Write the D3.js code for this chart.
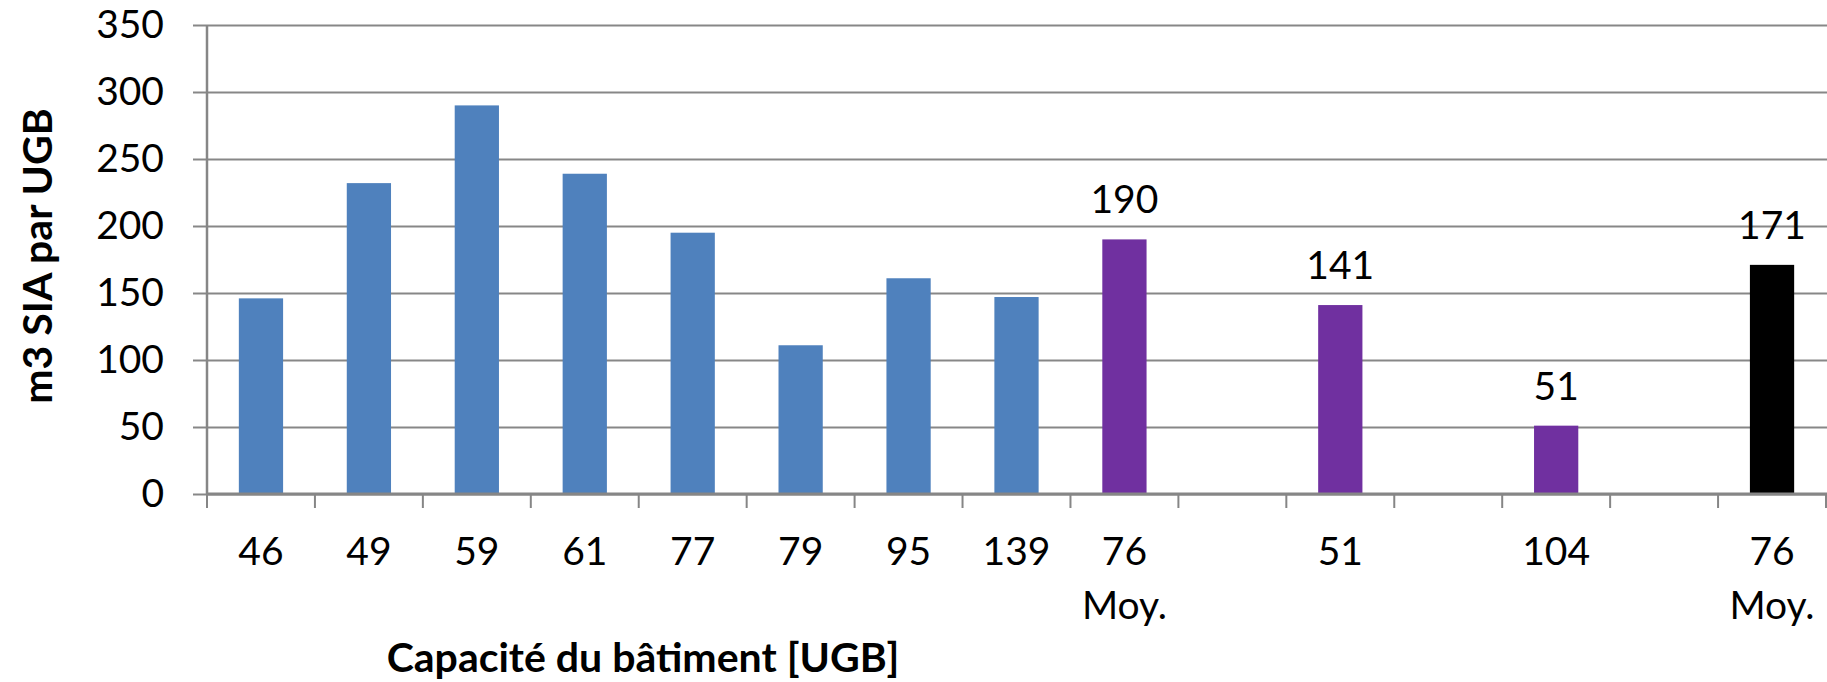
<!DOCTYPE html>
<html>
<head>
<meta charset="utf-8">
<script src="https://cdn.jsdelivr.net/npm/d3@7"></script>
<style>
  body { margin: 0; background: #fff; }
  svg { display: block; }
  text { font-family: Lato, "Open Sans", sans-serif; fill: #000; }
</style>
</head>
<body>
<svg id="chart" width="1827" height="682"></svg>
<script>
// categories (second line after "|"), empty slots are spacers between groups
var categories = ["46", "49", "59", "61", "77", "79", "95", "139", "76|Moy.", "", "51", "", "104", "", "76|Moy."];
var values = [146, 232, 290, 239, 195, 111, 161, 147, 190, null, 141, null, 51, null, 171];
var series = ["site", "site", "site", "site", "site", "site", "site", "site", "moyA", null, "siteB", null, "siteB", null, "moyB"];
var yTicks = [0, 50, 100, 150, 200, 250, 300, 350];

var colors = { site: "#4F81BD", moyA: "#7030A0", siteB: "#7030A0", moyB: "#000000" };
var labelled = { moyA: true, siteB: true, moyB: true };

var svg = d3.select("#chart");
var W = 1827, H = 682;
var plot = { left: 207, right: 1826, top: 25, bottom: 494 };
var fs = "39px";

var x = d3.scaleBand()
    .domain(d3.range(categories.length))
    .range([plot.left, plot.right])
    .padding(0);

var y = d3.scaleLinear()
    .domain([0, 350])
    .range([plot.bottom, plot.top]);

// gridlines + y labels
var yAxis = svg.append("g")
    .attr("transform", "translate(" + plot.left + ",0)")
    .call(d3.axisLeft(y).tickValues(yTicks).tickSize(14).tickPadding(29));
yAxis.select(".domain").remove();
yAxis.selectAll(".tick line")
    .attr("x1", -14)
    .attr("x2", W - plot.left)
    .attr("stroke", "#878787")
    .attr("stroke-width", 2);
yAxis.selectAll(".tick text")
    .style("font-size", fs)
    .style("font-family", "Lato, sans-serif")
    .attr("fill", "#000");

// bars
var barW = x.bandwidth() * 0.41;
var data = values.map(function(v, i) { return { i: i, v: v, s: series[i] }; })
    .filter(function(d) { return d.v != null; });

svg.append("g").selectAll("rect")
    .data(data)
    .enter()
    .append("rect")
    .attr("x", function(d) { return x(d.i) + x.bandwidth() / 2 - barW / 2; })
    .attr("width", barW)
    .attr("y", function(d) { return y(d.v); })
    .attr("height", function(d) { return y(0) - y(d.v); })
    .attr("fill", function(d) { return colors[d.s]; });

// value labels
svg.append("g").selectAll("text")
    .data(data.filter(function(d) { return labelled[d.s]; }))
    .enter()
    .append("text")
    .attr("x", function(d) { return x(d.i) + x.bandwidth() / 2; })
    .attr("y", function(d) { return y(d.v) - 26; })
    .attr("text-anchor", "middle")
    .style("font-size", fs)
    .text(function(d) { return d.v; });

// y axis line
svg.append("line")
    .attr("x1", plot.left).attr("x2", plot.left)
    .attr("y1", plot.top).attr("y2", plot.bottom)
    .attr("stroke", "#868686")
    .attr("stroke-width", 2.5);

// x axis: line, ticks at band edges, labels at centres
var xAxis = svg.append("g")
    .attr("transform", "translate(0," + plot.bottom + ")")
    .call(d3.axisBottom(x).tickSize(0).tickFormat(""));
xAxis.select(".domain")
    .attr("stroke", "#868686")
    .attr("stroke-width", 3)
    .attr("d", "M" + plot.left + ",0H" + W);

xAxis.selectAll(".edge")
    .data(d3.range(categories.length + 1))
    .enter()
    .append("line")
    .attr("class", "edge")
    .attr("x1", function(i) { return i < categories.length ? x(i) : plot.right; })
    .attr("x2", function(i) { return i < categories.length ? x(i) : plot.right; })
    .attr("y1", 0)
    .attr("y2", 14)
    .attr("stroke", "#868686")
    .attr("stroke-width", 2);

var lbl = xAxis.selectAll(".tick text").text(null)
    .attr("y", 0)
    .attr("dy", null)
    .style("font-size", fs)
    .style("font-family", "Lato, sans-serif")
    .attr("fill", "#000");
lbl.each(function(i) {
  var parts = categories[i].split("|");
  var t = d3.select(this);
  parts.forEach(function(p, k) {
    if (p === "") return;
    t.append("tspan")
      .attr("x", 0)
      .attr("y", 71 + k * 54)
      .text(p);
  });
});

// axis titles
svg.append("text")
    .attr("transform", "translate(52,256) rotate(-90)")
    .attr("text-anchor", "middle")
    .style("font-size", "41px")
    .style("font-weight", "bold")
    .text("m3 SIA par UGB");

svg.append("text")
    .attr("x", 643)
    .attr("y", 672)
    .attr("text-anchor", "middle")
    .style("font-size", "41px")
    .style("font-weight", "bold")
    .text("Capacité du bâtiment [UGB]");
</script>
</body>
</html>
